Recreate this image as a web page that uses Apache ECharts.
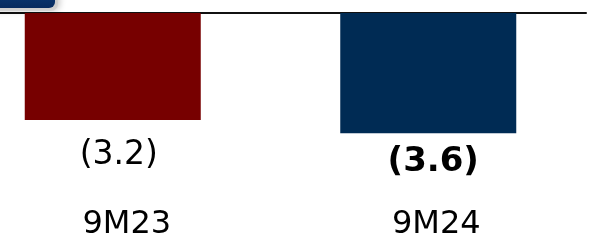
<!DOCTYPE html>
<html><head><meta charset="utf-8">
<script src="https://cdn.jsdelivr.net/npm/echarts@6/dist/echarts.min.js"></script>
<style>html,body{margin:0;padding:0;background:#fff}#c{width:595px;height:246px}</style>
</head><body><div id="c"></div>
<script>
const categories = ['9M23', '9M24'];
const values = [-3.2, -3.6];
const valueLabels = ['(3.2)', '(3.6)'];
const barColors = ['#770000', '#002B54'];
const boldFlags = [false, true];

const chart = echarts.init(document.getElementById('c'));
chart.setOption({
  animation: false,
  graphic: [
    { type: 'rect', shape: { x: -10, y: -10, width: 68, height: 21, r: 7 },
      style: { fill: '#c8c8c8', opacity: 0.6, shadowBlur: 6, shadowColor: 'rgba(0,0,0,0.35)', shadowOffsetX: 2 }, z: 10 },
    { type: 'rect', shape: { x: -10, y: -10, width: 65, height: 18, r: 6 },
      style: { fill: new echarts.graphic.LinearGradient(0, 0, 0, 1, [{offset: 0, color: '#0a3a78'}, {offset: 1, color: '#062a5e'}]) }, z: 11 }
  ],
  grid: [
    { left: -45, right: 9, top: 13, height: 200.4, outerBoundsMode: 'none', containLabel: false },
    { left: -28, right: 4, top: 13, height: 200.4, outerBoundsMode: 'none', containLabel: false }
  ],
  xAxis: [
    { type: 'category', gridIndex: 0, data: categories, position: 'top',
      axisLine: { show: true, onZero: false, lineStyle: { color: '#111', width: 2 } },
      axisTick: { show: false }, axisLabel: { show: false } },
    { type: 'category', gridIndex: 1, data: categories, position: 'bottom',
      axisLine: { show: false }, axisTick: { show: false },
      axisLabel: { show: true, margin: -5, fontFamily: 'DejaVu Sans', fontSize: 32, color: '#000' } }
  ],
  yAxis: [
    { type: 'value', gridIndex: 0, min: -6, max: 0, show: false, splitLine: { show: false } },
    { type: 'value', gridIndex: 1, min: -6, max: 0, show: false, splitLine: { show: false } }
  ],
  series: [{
    type: 'bar', xAxisIndex: 0, yAxisIndex: 0, barWidth: 176,
    data: values.map((v, i) => ({
      value: v,
      itemStyle: { color: barColors[i] },
      label: {
        show: true, position: 'bottom',
        distance: boldFlags[i] ? 12 : 19,
        offset: [boldFlags[i] ? 5 : 6, 0],
        formatter: valueLabels[i],
        fontFamily: 'DejaVu Sans', fontSize: boldFlags[i] ? 34 : 33,
        fontWeight: boldFlags[i] ? 'bold' : 'normal', color: '#000'
      }
    }))
  }]
});
</script></body></html>
